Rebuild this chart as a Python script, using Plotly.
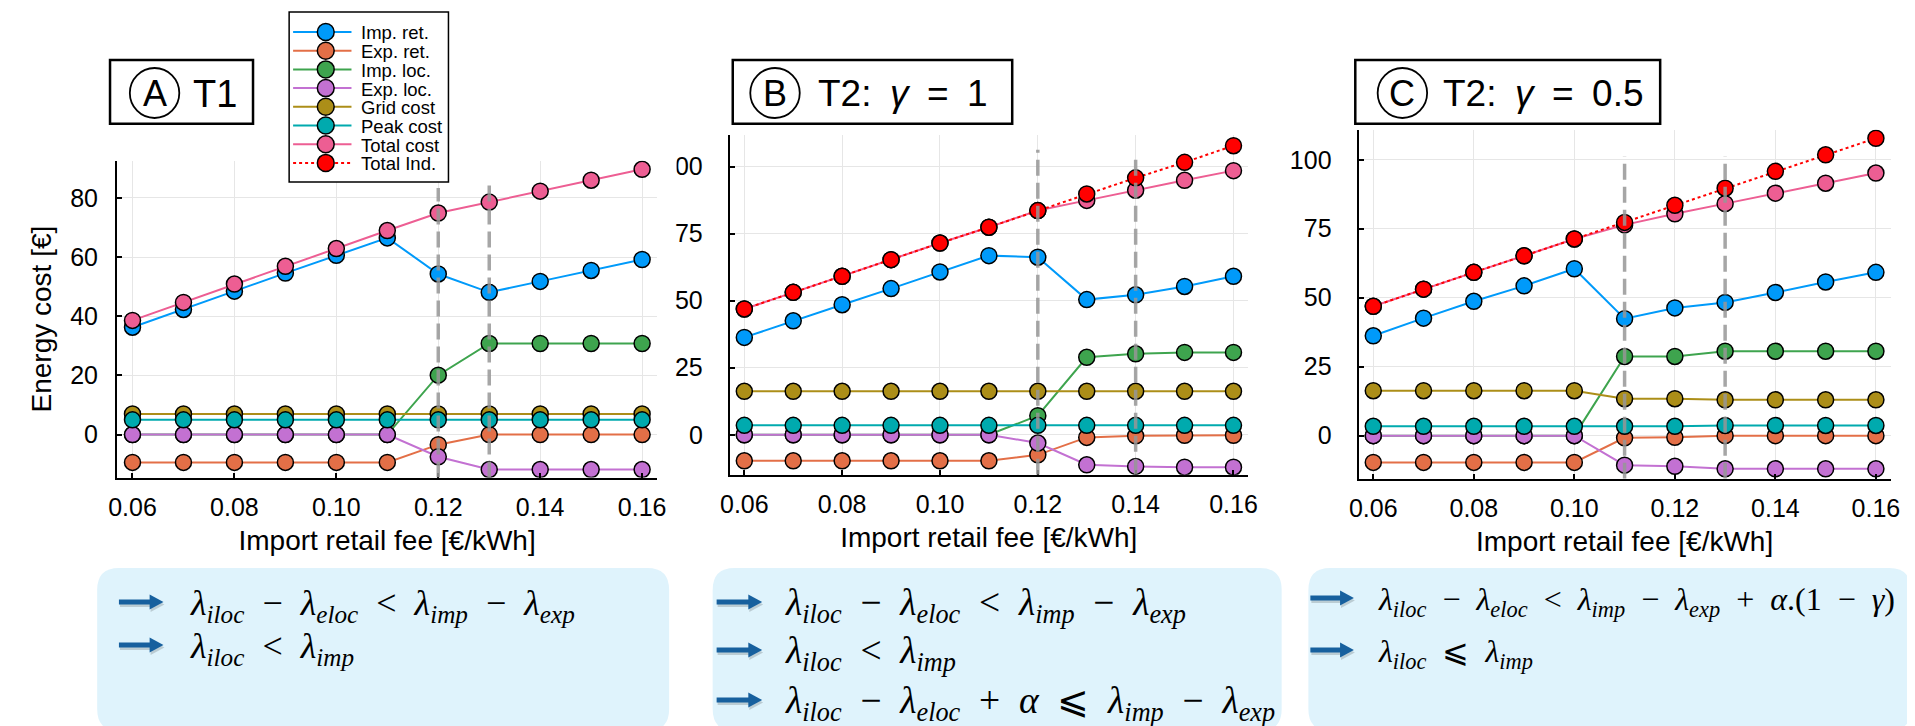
import plotly.graph_objects as go

W, H = 1915, 726

# ---------------- data ----------------
fees = [0.06, 0.07, 0.08, 0.09, 0.10, 0.11, 0.12, 0.13, 0.14, 0.15, 0.16]
series_names = ["Imp. ret.", "Exp. ret.", "Imp. loc.", "Exp. loc.",
                "Grid cost", "Peak cost", "Total cost", "Total Ind."]
series_colors = ["#009AFA", "#E36F47", "#3EA44E", "#C371D2",
                 "#AC8E18", "#00AAAE", "#ED5E93", "#FF0000"]

# Panel A : T1
imp_ret_A = [36.3, 42.3, 48.5, 54.6, 60.6, 66.5, 54.3, 48.1, 51.8, 55.5, 59.2]
exp_ret_A = [-9.4, -9.4, -9.4, -9.4, -9.4, -9.4, -3.4, 0.0, 0.0, 0.0, 0.0]
imp_loc_A = [0, 0, 0, 0, 0, 0, 20.1, 30.8, 30.8, 30.8, 30.8]
exp_loc_A = [0, 0, 0, 0, 0, 0, -7.5, -11.8, -11.8, -11.8, -11.8]
grid_A = [7.0, 7.0, 7.0, 7.0, 7.0, 7.0, 7.0, 7.0, 7.0, 7.0, 7.0]
peak_A = [5.0, 5.0, 5.0, 5.0, 5.0, 5.0, 5.0, 5.0, 5.0, 5.0, 5.0]
total_A = [38.6, 44.7, 50.9, 56.9, 62.9, 69.0, 74.9, 78.6, 82.3, 86.0, 89.7]
thresholds_A = [0.12, 0.13]

# Panel B : T2, gamma = 1
imp_ret_B = [36.3, 42.5, 48.5, 54.5, 60.7, 66.8, 66.2, 50.4, 52.2, 55.3, 59.1]
exp_ret_B = [-9.7, -9.7, -9.7, -9.7, -9.7, -9.7, -7.5, -1.0, -0.4, -0.2, -0.2]
imp_loc_B = [0, 0, 0, 0, 0, 0, 7.1, 28.9, 30.2, 30.7, 30.7]
exp_loc_B = [0, 0, 0, 0, 0, 0, -3.1, -11.2, -11.8, -12.1, -12.1]
grid_B = [16.2, 16.2, 16.2, 16.2, 16.2, 16.2, 16.2, 16.2, 16.2, 16.2, 16.2]
peak_B = [3.5, 3.5, 3.5, 3.5, 3.5, 3.5, 3.5, 3.5, 3.5, 3.5, 3.5]
total_B = [46.9, 53.1, 59.1, 65.3, 71.5, 77.4, 83.6, 87.4, 91.2, 94.9, 98.5]
ind_B = [46.9, 53.1, 59.1, 65.3, 71.5, 77.4, 83.6, 89.8, 95.8, 101.6, 107.8]
thresholds_B = [0.12, 0.14]

# Panel C : T2, gamma = 0.5
imp_ret_C = [36.2, 42.6, 48.7, 54.3, 60.5, 42.4, 46.3, 48.3, 51.9, 55.7, 59.2]
exp_ret_C = [-9.7, -9.7, -9.7, -9.7, -9.7, -0.8, -0.6, 0.0, 0.0, 0.0, 0.0]
imp_loc_C = [0, 0, 0, 0, 0, 28.7, 28.7, 30.6, 30.6, 30.6, 30.6]
exp_loc_C = [0, 0, 0, 0, 0, -10.7, -11.1, -12.0, -12.0, -12.0, -12.0]
grid_C = [16.3, 16.3, 16.3, 16.3, 16.3, 13.4, 13.4, 13.0, 13.0, 13.0, 13.0]
peak_C = [3.4, 3.4, 3.4, 3.4, 3.4, 3.4, 3.4, 3.7, 3.7, 3.7, 3.7]
total_C = [46.9, 53.1, 59.2, 65.2, 71.3, 76.4, 80.4, 84.1, 87.9, 91.5, 95.2]
ind_C = [46.9, 53.1, 59.2, 65.2, 71.3, 77.3, 83.5, 89.7, 95.8, 101.8, 107.8]
thresholds_C = [0.11, 0.13]

x_title = "Import retail fee [€/kWh]"
y_title = "Energy cost [€]"

# ---------------- layout helpers (pixel -> paper) ----------------
def px(x):
    return x / W

def py(y):
    return 1 - y / H

SANS = "Liberation Sans, Arial, sans-serif"
SERIF = "Liberation Serif, DejaVu Serif, serif"
EN = "\u2002"

panels = [
    dict(key="", series=[imp_ret_A, exp_ret_A, imp_loc_A, exp_loc_A, grid_A, peak_A, total_A, None],
         thr=thresholds_A, thr_top=[83.4, 85.6],
         xpx=(100, 646), ypx=(152.7, 469.5), xr=[0.05695, 0.16297], yr=[-14.5, 92.6], dtick=20,
         ystand=12, letter="A", label="T1", label_size=38,
         box=(93, 52, 237.5, 115.7), circ=(138, 85), text_x=175),
    dict(key="2", series=[imp_ret_B, exp_ret_B, imp_loc_B, exp_loc_B, grid_B, peak_B, total_B, ind_B],
         thr=thresholds_B, thr_top=[106.3, 105.1],
         xpx=(719.3, 1242.7), ypx=(126.7, 466.7), xr=[0.05703, 0.16291], yr=[-14.9, 111.9], dtick=25,
         ystand=20, letter="B", label=f"T2:{EN}<i>γ</i>{EN}={EN}1", label_size=37,
         box=(722.3, 52, 1004.7, 115.7), circ=(765, 85), text_x=806),
    dict(key="3", series=[imp_ret_C, exp_ret_C, imp_loc_C, exp_loc_C, grid_C, peak_C, total_C, ind_C],
         thr=thresholds_C, thr_top=[101.2, 101.2],
         xpx=(1354.7, 1892.4), ypx=(121.7, 470.7), xr=[0.05707, 0.16293], yr=[-15.6, 110.9], dtick=25,
         ystand=20, letter="C", label=f"T2:{EN}<i>γ</i>{EN}={EN}0.5", label_size=37,
         box=(1351.4, 52, 1659.5, 115.7), circ=(1399, 85), text_x=1438),
]

fig = go.Figure()
shapes = []
annotations = []
layout_axes = {}

for i, p in enumerate(panels):
    k = p["key"]
    xa, ya = "x" + k, "y" + k
    for j, vals in enumerate(p["series"]):
        if vals is None:
            continue
        dotted = series_names[j] == "Total Ind."
        fig.add_trace(go.Scatter(
            x=fees, y=vals, name=series_names[j], mode="lines+markers",
            xaxis=xa, yaxis=ya, showlegend=False,
            line=dict(color=series_colors[j], width=2, dash="dot" if dotted else "solid"),
            marker=dict(size=16, color=series_colors[j], line=dict(color="black", width=1.5)),
        ))
    axis_font = dict(family=SANS, size=25, color="black")
    layout_axes["xaxis" + k] = dict(
        domain=[px(p["xpx"][0]), px(p["xpx"][1])], anchor=ya, range=p["xr"],
        tickmode="linear", tick0=0.06, dtick=0.02, tickformat=".2f",
        showgrid=True, gridcolor="#e6e6e6", gridwidth=1, zeroline=False,
        showline=True, linecolor="black", linewidth=2, mirror=False,
        ticks="inside", ticklen=5, tickwidth=1.5, tickcolor="black",
        tickfont=axis_font, ticklabelstandoff=6,
        title=dict(text=x_title, font=dict(family=SANS, size=28, color="black"), standoff=11),
    )
    yax = dict(
        domain=[py(p["ypx"][1]), py(p["ypx"][0])], anchor=xa, range=p["yr"],
        tickmode="linear", tick0=0, dtick=p["dtick"],
        showgrid=True, gridcolor="#e6e6e6", gridwidth=1, zeroline=False,
        showline=True, linecolor="black", linewidth=2, mirror=False,
        ticks="inside", ticklen=5, tickwidth=1.5, tickcolor="black",
        tickfont=axis_font, ticklabelstandoff=p["ystand"],
    )
    if i == 0:
        yax["title"] = dict(text=y_title, font=dict(family=SANS, size=28, color="black"), standoff=10)
    layout_axes["yaxis" + k] = yax
    # threshold dashed lines
    for t, top in zip(p["thr"], p["thr_top"]):
        shapes.append(dict(type="line", xref=xa, yref=ya, x0=t, x1=t, y0=p["yr"][0], y1=top,
                           line=dict(color="rgba(150,150,150,0.85)", width=3.5, dash="16px,7px"),
                           layer="above"))
    # title box
    bx0, by0, bx1, by1 = p["box"]
    shapes.append(dict(type="rect", xref="paper", yref="paper",
                       x0=px(bx0), x1=px(bx1), y0=py(by1), y1=py(by0),
                       line=dict(color="black", width=2.5), fillcolor="white", layer="above"))
    cx, cy = p["circ"]
    shapes.append(dict(type="circle", xref="paper", yref="paper",
                       x0=px(cx - 25), x1=px(cx + 25), y0=py(cy + 25), y1=py(cy - 25),
                       line=dict(color="black", width=1.8), layer="above"))
    annotations.append(dict(text=p["letter"], xref="paper", yref="paper", x=px(cx), y=py(cy + 1),
                            xanchor="center", yanchor="middle", showarrow=False,
                            font=dict(family=SANS, size=36, color="black")))
    annotations.append(dict(text=p["label"], xref="paper", yref="paper", x=px(p["text_x"]), y=py(cy + 1),
                            xanchor="left", yanchor="middle", showarrow=False,
                            font=dict(family=SANS, size=p["label_size"], color="black")))

# the reference image of panel B is cropped on its left, hiding the "1" of its "100" label
shapes.append(dict(type="rect", xref="paper", yref="paper", x0=px(647), x1=px(665.5),
                   y0=py(176), y1=py(142), fillcolor="white", line=dict(width=0), layer="above"))

# ---------------- custom legend ----------------
lg_x0, lg_y0, lg_x1, lg_y1 = 274, 4, 435, 174
shapes.append(dict(type="rect", xref="paper", yref="paper", x0=px(lg_x0), x1=px(lg_x1),
                   y0=py(lg_y1), y1=py(lg_y0), line=dict(color="black", width=1.5),
                   fillcolor="white", layer="above"))
for j, (name, col) in enumerate(zip(series_names, series_colors)):
    yy = 24 + j * 18.7
    shapes.append(dict(type="line", xref="paper", yref="paper", x0=px(278), x1=px(337),
                       y0=py(yy), y1=py(yy), layer="above",
                       line=dict(color=col, width=2, dash="dot" if name == "Total Ind." else "solid")))
    shapes.append(dict(type="circle", xref="paper", yref="paper", x0=px(311 - 8.5), x1=px(311 + 8.5),
                       y0=py(yy + 8.5), y1=py(yy - 8.5), fillcolor=col, layer="above",
                       line=dict(color="black", width=1.5)))
    annotations.append(dict(text=name, xref="paper", yref="paper", x=px(345), y=py(yy + 1),
                            xanchor="left", yanchor="middle", showarrow=False,
                            font=dict(family=SANS, size=18.5, color="black")))

# ---------------- condition boxes ----------------
def rounded_path(x0, y0, x1, y1, r):
    return (f"M {px(x0 + r)},{py(y0)} L {px(x1 - r)},{py(y0)} "
            f"Q {px(x1)},{py(y0)} {px(x1)},{py(y0 + r)} L {px(x1)},{py(y1 - r)} "
            f"Q {px(x1)},{py(y1)} {px(x1 - r)},{py(y1)} L {px(x0 + r)},{py(y1)} "
            f"Q {px(x0)},{py(y1)} {px(x0)},{py(y1 - r)} L {px(x0)},{py(y0 + r)} "
            f"Q {px(x0)},{py(y0)} {px(x0 + r)},{py(y0)} Z")

def arrow_shapes(x0, x1, y, color):
    hl, hw = 14, 7.5
    return [
        dict(type="line", xref="paper", yref="paper", x0=px(x0), x1=px(x1 - hl + 1),
             y0=py(y), y1=py(y), line=dict(color=color, width=5), layer="above"),
        dict(type="path", xref="paper", yref="paper",
             path=f"M {px(x1 - hl)},{py(y - hw)} L {px(x1)},{py(y)} L {px(x1 - hl)},{py(y + hw)} Z",
             fillcolor=color, line=dict(width=0), layer="above"),
    ]

def lam(sub):
    return f"<i>λ</i><sub><i>{sub}</i></sub>"

def op(s):
    return f"{EN}{s}{EN}"

cond_A = [f"{lam('iloc')}{op('−')}{lam('eloc')}{op('&lt;')}{lam('imp')}{op('−')}{lam('exp')}",
          f"{lam('iloc')}{op('&lt;')}{lam('imp')}"]
cond_B = [f"{lam('iloc')}{op('−')}{lam('eloc')}{op('&lt;')}{lam('imp')}{op('−')}{lam('exp')}",
          f"{lam('iloc')}{op('&lt;')}{lam('imp')}",
          f"{lam('iloc')}{op('−')}{lam('eloc')}{op('+')}<i>α</i>{op('⩽')}{lam('imp')}{op('−')}{lam('exp')}"]
cond_C = [f"{lam('iloc')}{op('−')}{lam('eloc')}{op('&lt;')}{lam('imp')}{op('−')}{lam('exp')}"
          f"{op('+')}<i>α</i>.(1{op('−')}<i>γ</i>)",
          f"{lam('iloc')}{op('⩽')}{lam('imp')}"]

boxes = [
    dict(rect=(80, 560, 658, 723), arrow_x=(102, 147), text_x=172, rows=[597, 640],
         conds=cond_A, size=36),
    dict(rect=(702, 560, 1277, 723), arrow_x=(706, 752), text_x=773, rows=[597, 645, 695],
         conds=cond_B, size=37.5),
    dict(rect=(1304, 560, 1913, 723), arrow_x=(1306, 1350), text_x=1372, rows=[593, 645],
         conds=cond_C, size=32),
]
for b in boxes:
    shapes.append(dict(type="path", xref="paper", yref="paper", path=rounded_path(*b["rect"], 22),
                       fillcolor="#dff3fc", line=dict(width=0), layer="below"))
    for yy, txt in zip(b["rows"], b["conds"]):
        ay = yy - 3
        shapes.extend(arrow_shapes(b["arrow_x"][0] + 1, b["arrow_x"][1] + 1, ay + 2.5, "rgba(0,0,0,0.16)"))
        shapes.extend(arrow_shapes(b["arrow_x"][0], b["arrow_x"][1], ay, "#17609e"))
        annotations.append(dict(text=txt, xref="paper", yref="paper", x=px(b["text_x"]), y=py(yy),
                                xanchor="left", yanchor="middle", showarrow=False,
                                font=dict(family=SERIF, size=b["size"], color="black")))

fig.update_layout(
    width=W, height=H, margin=dict(l=0, r=0, t=0, b=0), autosize=False,
    paper_bgcolor="white", plot_bgcolor="white", showlegend=False,
    shapes=shapes, annotations=annotations, **layout_axes,
)

fig.write_html("out.html")
